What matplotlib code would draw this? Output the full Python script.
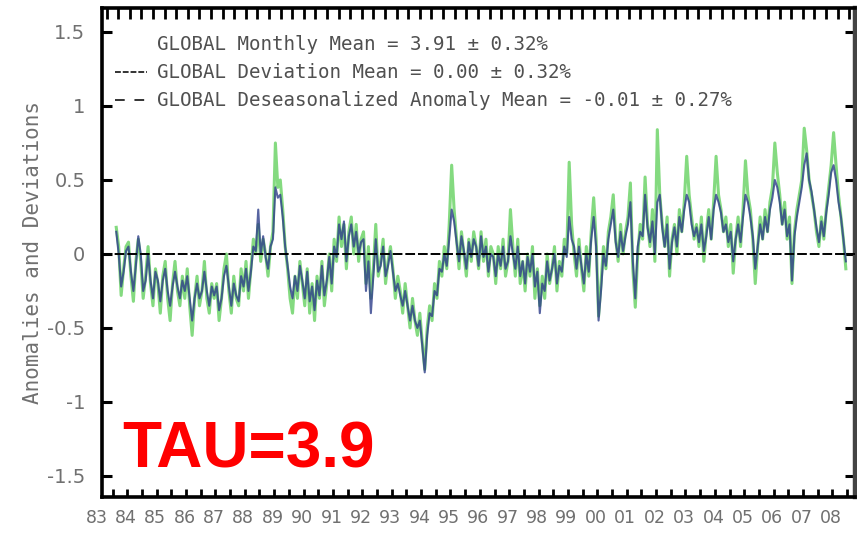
import numpy as np
import matplotlib
matplotlib.use("Agg")
import matplotlib.pyplot as plt
from matplotlib.lines import Line2D
from matplotlib.ticker import MultipleLocator

# Monthly values, Aug 1983 .. Jun 2008
start_year, start_month = 1983, 8

deviation = [
    # 1983 (Aug-Dec)
    0.18, 0.05, -0.28, -0.10, 0.05,
    # 1984
    0.08, -0.15, -0.32, -0.05, 0.10, -0.05, -0.30, -0.15, 0.05, -0.20, -0.35, -0.10,
    # 1985
    -0.20, -0.40, -0.15, -0.05, -0.30, -0.45, -0.20, -0.05, -0.25, -0.35, -0.15, -0.30,
    # 1986
    -0.10, -0.35, -0.55, -0.30, -0.15, -0.35, -0.25, -0.05, -0.30, -0.40, -0.20, -0.30,
    # 1987
    -0.20, -0.45, -0.30, -0.10, 0.00, -0.25, -0.40, -0.15, -0.30, -0.35, -0.10, -0.25,
    # 1988
    -0.05, -0.30, -0.10, 0.10, 0.00, 0.20, -0.05, 0.10, 0.00, -0.15, 0.05, 0.15,
    # 1989
    0.75, 0.45, 0.50, 0.30, 0.05, -0.10, -0.30, -0.40, -0.15, -0.30, -0.05, -0.20,
    # 1990
    -0.35, -0.10, -0.40, -0.20, -0.45, -0.15, -0.30, -0.05, -0.35, -0.20, 0.00, -0.25,
    # 1991
    0.10, -0.05, 0.25, 0.05, 0.20, -0.10, 0.15, 0.25, 0.00, 0.20, -0.05, 0.10,
    # 1992
    0.15, -0.20, 0.05, -0.30, -0.10, 0.20, -0.15, -0.05, 0.10, -0.20, -0.05, 0.05,
    # 1993
    -0.10, -0.30, -0.15, -0.25, -0.40, -0.20, -0.35, -0.50, -0.30, -0.45, -0.55, -0.40,
    # 1994
    -0.60, -0.78, -0.50, -0.35, -0.45, -0.20, -0.30, -0.05, -0.15, 0.05, -0.10, 0.20,
    # 1995
    0.60, 0.30, 0.10, -0.10, 0.15, 0.00, -0.15, 0.10, -0.05, 0.15, 0.05, -0.10,
    # 1996
    0.15, -0.05, 0.10, -0.15, 0.05, 0.00, -0.20, 0.05, -0.10, 0.10, -0.15, -0.05,
    # 1997
    0.30, 0.05, -0.15, 0.10, -0.20, -0.05, -0.25, 0.00, -0.15, 0.05, -0.30, -0.10,
    # 1998
    -0.35, -0.15, -0.30, 0.00, -0.20, -0.10, 0.05, -0.25, -0.05, -0.15, 0.10, 0.00,
    # 1999
    0.62, 0.20, 0.00, -0.15, 0.10, -0.10, -0.25, 0.05, -0.15, 0.15, 0.38, 0.10,
    # 2000
    -0.42, -0.20, 0.05, -0.10, 0.15, 0.25, 0.40, 0.10, -0.05, 0.20, 0.00, 0.15,
    # 2001
    0.25, 0.48, -0.10, -0.36, 0.00, 0.20, 0.10, 0.52, 0.20, 0.05, 0.30, -0.05,
    # 2002
    0.84, 0.40, 0.20, 0.05, 0.25, -0.15, 0.10, 0.20, 0.00, 0.30, 0.15, 0.35,
    # 2003
    0.66, 0.40, 0.25, 0.10, 0.20, 0.05, 0.25, -0.05, 0.15, 0.30, 0.10, 0.35,
    # 2004
    0.66, 0.40, 0.30, 0.15, 0.25, 0.05, 0.20, -0.13, 0.10, 0.25, 0.05, 0.30,
    # 2005
    0.63, 0.40, 0.30, 0.10, -0.20, 0.05, 0.25, 0.10, 0.30, 0.15, 0.35, 0.45,
    # 2006
    0.75, 0.55, 0.40, 0.20, 0.35, 0.10, 0.25, -0.20, 0.15, 0.30, 0.40, 0.50,
    # 2007
    0.85, 0.70, 0.50, 0.40, 0.30, 0.15, 0.05, 0.25, 0.10, 0.30, 0.45, 0.60,
    # 2008 (Jan-Jun)
    0.82, 0.60, 0.40, 0.25, 0.10, -0.10,
]

anomaly = [
    0.15, 0.00, -0.22, -0.12, 0.02,
    0.05, -0.12, -0.25, -0.08, 0.12, 0.00, -0.25, -0.18, 0.00, -0.18, -0.30, -0.12,
    -0.18, -0.32, -0.18, -0.10, -0.25, -0.35, -0.22, -0.12, -0.22, -0.30, -0.18, -0.25,
    -0.15, -0.30, -0.45, -0.30, -0.20, -0.30, -0.25, -0.12, -0.25, -0.35, -0.22, -0.28,
    -0.22, -0.38, -0.30, -0.15, -0.08, -0.22, -0.35, -0.20, -0.28, -0.32, -0.15, -0.22,
    -0.10, -0.25, -0.12, 0.05, 0.02, 0.30, 0.00, 0.12, -0.02, -0.10, 0.05, 0.10,
    0.45, 0.38, 0.40, 0.25, 0.05, -0.08, -0.22, -0.30, -0.15, -0.25, -0.08, -0.18,
    -0.30, -0.12, -0.32, -0.22, -0.38, -0.18, -0.28, -0.08, -0.28, -0.18, -0.02, -0.20,
    0.05, -0.02, 0.20, 0.10, 0.22, -0.05, 0.12, 0.20, 0.05, 0.15, 0.00, 0.08,
    0.10, -0.25, -0.05, -0.40, -0.15, 0.10, -0.12, -0.08, 0.05, -0.15, -0.08, 0.02,
    -0.12, -0.25, -0.20, -0.28, -0.35, -0.25, -0.35, -0.45, -0.35, -0.45, -0.50, -0.45,
    -0.62, -0.80, -0.55, -0.40, -0.42, -0.25, -0.28, -0.10, -0.12, 0.00, -0.08, 0.10,
    0.30, 0.22, 0.08, -0.05, 0.12, 0.02, -0.10, 0.08, -0.02, 0.10, 0.05, -0.08,
    0.12, -0.02, 0.05, -0.12, 0.00, -0.02, -0.15, 0.00, -0.08, 0.05, -0.10, -0.05,
    0.12, 0.00, -0.10, 0.05, -0.15, -0.05, -0.20, -0.02, -0.12, 0.00, -0.22, -0.12,
    -0.40, -0.20, -0.25, -0.05, -0.18, -0.10, 0.00, -0.20, -0.08, -0.12, 0.05, -0.02,
    0.25, 0.10, 0.05, -0.10, 0.05, -0.08, -0.20, 0.00, -0.12, 0.10, 0.25, 0.05,
    -0.45, -0.25, 0.00, -0.08, 0.10, 0.20, 0.30, 0.08, -0.02, 0.15, 0.02, 0.12,
    0.20, 0.35, -0.05, -0.30, 0.05, 0.15, 0.12, 0.40, 0.18, 0.08, 0.22, 0.00,
    0.35, 0.40, 0.18, 0.05, 0.20, -0.10, 0.08, 0.18, 0.05, 0.25, 0.15, 0.30,
    0.40, 0.35, 0.20, 0.12, 0.18, 0.08, 0.20, 0.02, 0.12, 0.25, 0.10, 0.30,
    0.40, 0.35, 0.28, 0.15, 0.20, 0.08, 0.15, -0.05, 0.10, 0.20, 0.08, 0.25,
    0.40, 0.35, 0.25, 0.12, -0.10, 0.05, 0.20, 0.10, 0.25, 0.15, 0.30, 0.38,
    0.50, 0.45, 0.35, 0.20, 0.30, 0.12, 0.20, -0.18, 0.12, 0.25, 0.35, 0.45,
    0.60, 0.68, 0.50, 0.42, 0.30, 0.18, 0.08, 0.22, 0.12, 0.28, 0.40, 0.55,
    0.60, 0.50, 0.35, 0.25, 0.10, -0.05,
]

year_labels = ["83", "84", "85", "86", "87", "88", "89", "90", "91", "92", "93",
               "94", "95", "96", "97", "98", "99", "00", "01", "02", "03", "04",
               "05", "06", "07", "08"]
y_ticks = [-1.5, -1, -0.5, 0, 0.5, 1, 1.5]
y_tick_labels = ["-1.5", "-1", "-0.5", "0", "0.5", "1", "1.5"]

legend_lines = [
    "GLOBAL Monthly Mean = 3.91 \u00b1 0.32%",
    "GLOBAL Deviation Mean = 0.00 \u00b1 0.32%",
    "GLOBAL Deseasonalized Anomaly Mean = -0.01 \u00b1 0.27%",
]

n = len(deviation)
t = start_year + (start_month - 1 + np.arange(n) + 0.5) / 12.0

W, H = 857, 533
fig = plt.figure(figsize=(W / 100, H / 100), dpi=100)
ax_l, ax_r, ax_t, ax_b = 102, 855, 8, 497
ax = fig.add_axes([ax_l / W, 1 - ax_b / H, (ax_r - ax_l) / W, (ax_b - ax_t) / H])

ax.set_xlim(1983.14, 2008.77)
ax.set_ylim(-1.642, 1.662)

ax.plot(t, deviation, color="#6fd46a", lw=2.2, alpha=0.85, zorder=2)
ax.plot(t, anomaly, color="#2d3d8a", lw=1.5, alpha=0.8, zorder=3)
ax.axhline(0, color="black", lw=1.4, ls=(0, (5, 1.5)), zorder=4)

# axis frame
for side in ["left", "bottom", "top"]:
    ax.spines[side].set_linewidth(2.6)
    ax.spines[side].set_color("black")
ax.spines["right"].set_linewidth(3.2)
ax.spines["right"].set_color("#444444")

ax.set_yticks(y_ticks)
ax.set_yticklabels(y_tick_labels)
ax.tick_params(axis="y", which="major", direction="in", length=7, width=2.2,
               left=True, right=True, labelsize=14, labelcolor="#707070", pad=12)

# bottom ticks every half year, labels drawn separately
ax.set_xticks([])
ax.xaxis.set_minor_locator(MultipleLocator(0.5))
ax.tick_params(axis="x", which="minor", direction="in", length=6, width=2,
               bottom=True, top=False)

# top ticks on their own spacing
axt = ax.twiny()
axt.set_xlim(ax.get_xlim())
axt.xaxis.set_major_locator(MultipleLocator(0.395))
axt.tick_params(axis="x", which="major", direction="in", length=8, width=2,
                labeltop=False, top=True)
for s in axt.spines.values():
    s.set_visible(False)

for i, lab in enumerate(year_labels):
    ax.text(1983 + i - 0.05, -0.025, lab, transform=ax.get_xaxis_transform(),
            ha="center", va="top", fontsize=12.5, color="#707070", clip_on=False)

ax.set_ylabel("Anomalies and Deviations", family="DejaVu Sans Mono",
              fontsize=15, color="#707070", labelpad=3)

# legend block
def fx(px):
    return px / W

def fy(py):
    return 1 - py / H

for i, (txt, py) in enumerate(zip(legend_lines, [45, 72, 100])):
    fig.text(fx(157), fy(py), txt, family="DejaVu Sans Mono", fontsize=13.8,
             color="#505050", va="center", ha="left")
fig.add_artist(Line2D([fx(115), fx(147)], [fy(72), fy(72)], color="#333333",
                      lw=1.4, ls=(0, (3, 1))))
fig.add_artist(Line2D([fx(115), fx(147)], [fy(100), fy(100)], color="#333333",
                      lw=1.4, ls=(0, (5, 5))))

fig.text(fx(122), fy(451), "TAU=3.9", family="Liberation Sans", weight="bold",
         fontsize=46, color="#ff0000", va="center", ha="left")

fig.savefig("out.png", dpi=100)
